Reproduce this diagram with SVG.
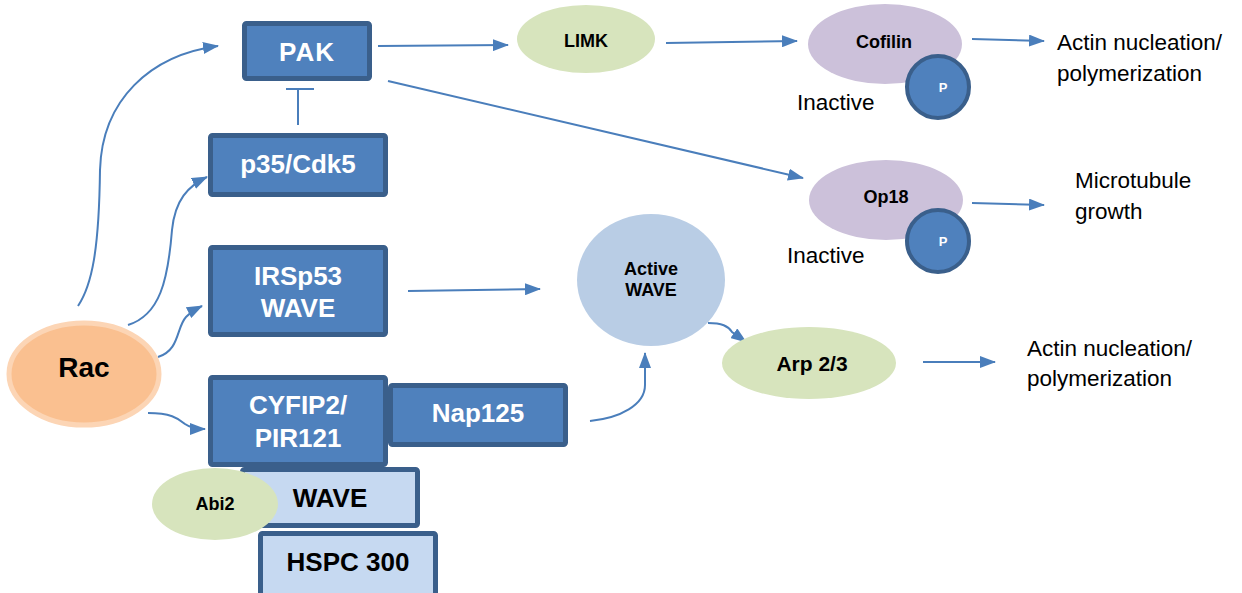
<svg xmlns="http://www.w3.org/2000/svg" width="1242" height="593" viewBox="0 0 1242 593">
<style>
.box{fill:#4F81BD;stroke:#3A5F8B;stroke-width:5}
.lbox{fill:#C6D9F1;stroke:#3A5F8B;stroke-width:5}
.wt{font-family:"Liberation Sans",Arial,sans-serif;font-weight:bold;font-size:26px;fill:#FFFFFF;text-anchor:middle}
.pt{font-family:"Liberation Sans",Arial,sans-serif;font-weight:bold;font-size:13px;fill:#FFFFFF;text-anchor:middle}
.bt{font-family:"Liberation Sans",Arial,sans-serif;font-weight:bold;fill:#000000;text-anchor:middle}
.rt{font-family:"Liberation Sans",Arial,sans-serif;font-size:22.5px;fill:#000000}
.green{fill:#D7E4BD}
.purple{fill:#CCC1DA}
.pc{fill:#4F81BD;stroke:#3A5F8B;stroke-width:4}
.conn{fill:none;stroke:#4A7EBB;stroke-width:2}
</style>
<defs>
<marker id="ah" markerWidth="16" markerHeight="12" refX="15" refY="6" orient="auto" markerUnits="userSpaceOnUse" viewBox="0 0 16 12">
<path d="M0,0 L16,6 L0,12 Z" fill="#4A7EBB"/>
</marker>
</defs>
<rect width="1242" height="593" fill="#FFFFFF"/>

<g id="connectors">
<path class="conn" marker-end="url(#ah)" d="M78,306 C92,285 99,250 100,170 C102,100 150,55 218,46"/>
<path class="conn" marker-end="url(#ah)" d="M128,325 C160,315 168,280 172,230 C175,200 188,186 207,177"/>
<path class="conn" marker-end="url(#ah)" d="M158,357 C180,350 176,328 186,317 Q192,311 202,306"/>
<path class="conn" marker-end="url(#ah)" d="M148,413 C170,413 178,418 185,424 Q192,429 205,429"/>
<path class="conn" d="M298,125 L298,89 M286,89 L314,89"/>
<path class="conn" marker-end="url(#ah)" d="M378,46 L508,45"/>
<path class="conn" marker-end="url(#ah)" d="M388,81 L803,178"/>
<path class="conn" marker-end="url(#ah)" d="M666,43 L797,41"/>
<path class="conn" marker-end="url(#ah)" d="M972,39 L1044,41"/>
<path class="conn" marker-end="url(#ah)" d="M972,203 L1044,205"/>
<path class="conn" marker-end="url(#ah)" d="M408,291 L540,289"/>
<path class="conn" marker-end="url(#ah)" d="M590,421 C620,418 645,405 645,385 L645,353"/>
<path class="conn" marker-end="url(#ah)" d="M708,323 C722,323 728,326 732,332 L746,342"/>
<path class="conn" marker-end="url(#ah)" d="M923,362 L995,362"/>
</g>

<g id="PAK">
<rect class="box" x="244.5" y="23.5" width="125" height="55" rx="2"/>
<text class="wt" x="307" y="61" letter-spacing="1">PAK</text>
</g>
<g id="p35Cdk5">
<rect class="box" x="210.5" y="135.5" width="175" height="59" rx="2"/>
<text class="wt" x="298" y="173">p35/Cdk5</text>
</g>
<g id="IRSp53">
<rect class="box" x="210.5" y="247.5" width="175" height="87" rx="2"/>
<text class="wt" x="298" y="285">IRSp53</text>
<text class="wt" x="298" y="317">WAVE</text>
</g>
<g id="WAVEbox">
<rect class="lbox" x="242.5" y="469.5" width="175" height="56" rx="2"/>
<text class="bt" x="330" y="507" font-size="26">WAVE</text>
</g>
<g id="HSPC300">
<rect class="lbox" x="260.5" y="533.5" width="175" height="80" rx="2"/>
<text class="bt" x="348" y="571" font-size="26">HSPC 300</text>
</g>
<g id="CYFIP2">
<rect class="box" x="210.5" y="377.5" width="175" height="87" rx="2"/>
<text class="wt" x="298" y="414">CYFIP2/</text>
<text class="wt" x="298" y="447">PIR121</text>
</g>
<g id="Nap125">
<rect class="box" x="390.5" y="385.5" width="175" height="59" rx="2"/>
<text class="wt" x="478" y="422">Nap125</text>
</g>
<g id="Abi2">
<ellipse class="green" cx="215" cy="504" rx="63" ry="36"/>
<text class="bt" x="215" y="510" font-size="18">Abi2</text>
</g>
<g id="Rac">
<ellipse cx="84" cy="374" rx="75" ry="51" fill="#FAC090" stroke="#FCD5B5" stroke-width="5"/>
<text class="bt" x="84" y="377" font-size="28">Rac</text>
</g>
<g id="LIMK">
<ellipse class="green" cx="586" cy="39" rx="69" ry="34"/>
<text class="bt" x="586" y="47" font-size="18">LIMK</text>
</g>
<g id="Cofilin">
<ellipse class="purple" cx="885" cy="44" rx="77" ry="40"/>
<text class="bt" x="884" y="48" font-size="18">Cofilin</text>
<circle class="pc" cx="938" cy="87" r="31"/>
<text class="pt" x="943" y="92">P</text>
<text class="rt" x="797" y="110">Inactive</text>
</g>
<g id="Op18">
<ellipse class="purple" cx="886" cy="200" rx="77" ry="40"/>
<text class="bt" x="886" y="203" font-size="18">Op18</text>
<circle class="pc" cx="938" cy="241" r="31"/>
<text class="pt" x="943" y="246">P</text>
<text class="rt" x="787" y="263">Inactive</text>
</g>
<g id="ActiveWAVE">
<ellipse cx="651" cy="280" rx="74" ry="66" fill="#B9CDE5"/>
<text class="bt" x="651" y="275" font-size="18">Active</text>
<text class="bt" x="651" y="296" font-size="18">WAVE</text>
</g>
<g id="Arp23">
<ellipse class="green" cx="809" cy="363" rx="87" ry="36"/>
<text class="bt" x="812" y="371" font-size="21">Arp 2/3</text>
</g>
<g id="out1">
<text class="rt" x="1057" y="50">Actin nucleation/</text>
<text class="rt" x="1057" y="81">polymerization</text>
</g>
<g id="out2">
<text class="rt" x="1075" y="188">Microtubule</text>
<text class="rt" x="1075" y="219">growth</text>
</g>
<g id="out3">
<text class="rt" x="1027" y="356">Actin nucleation/</text>
<text class="rt" x="1027" y="386">polymerization</text>
</g>
</svg>
